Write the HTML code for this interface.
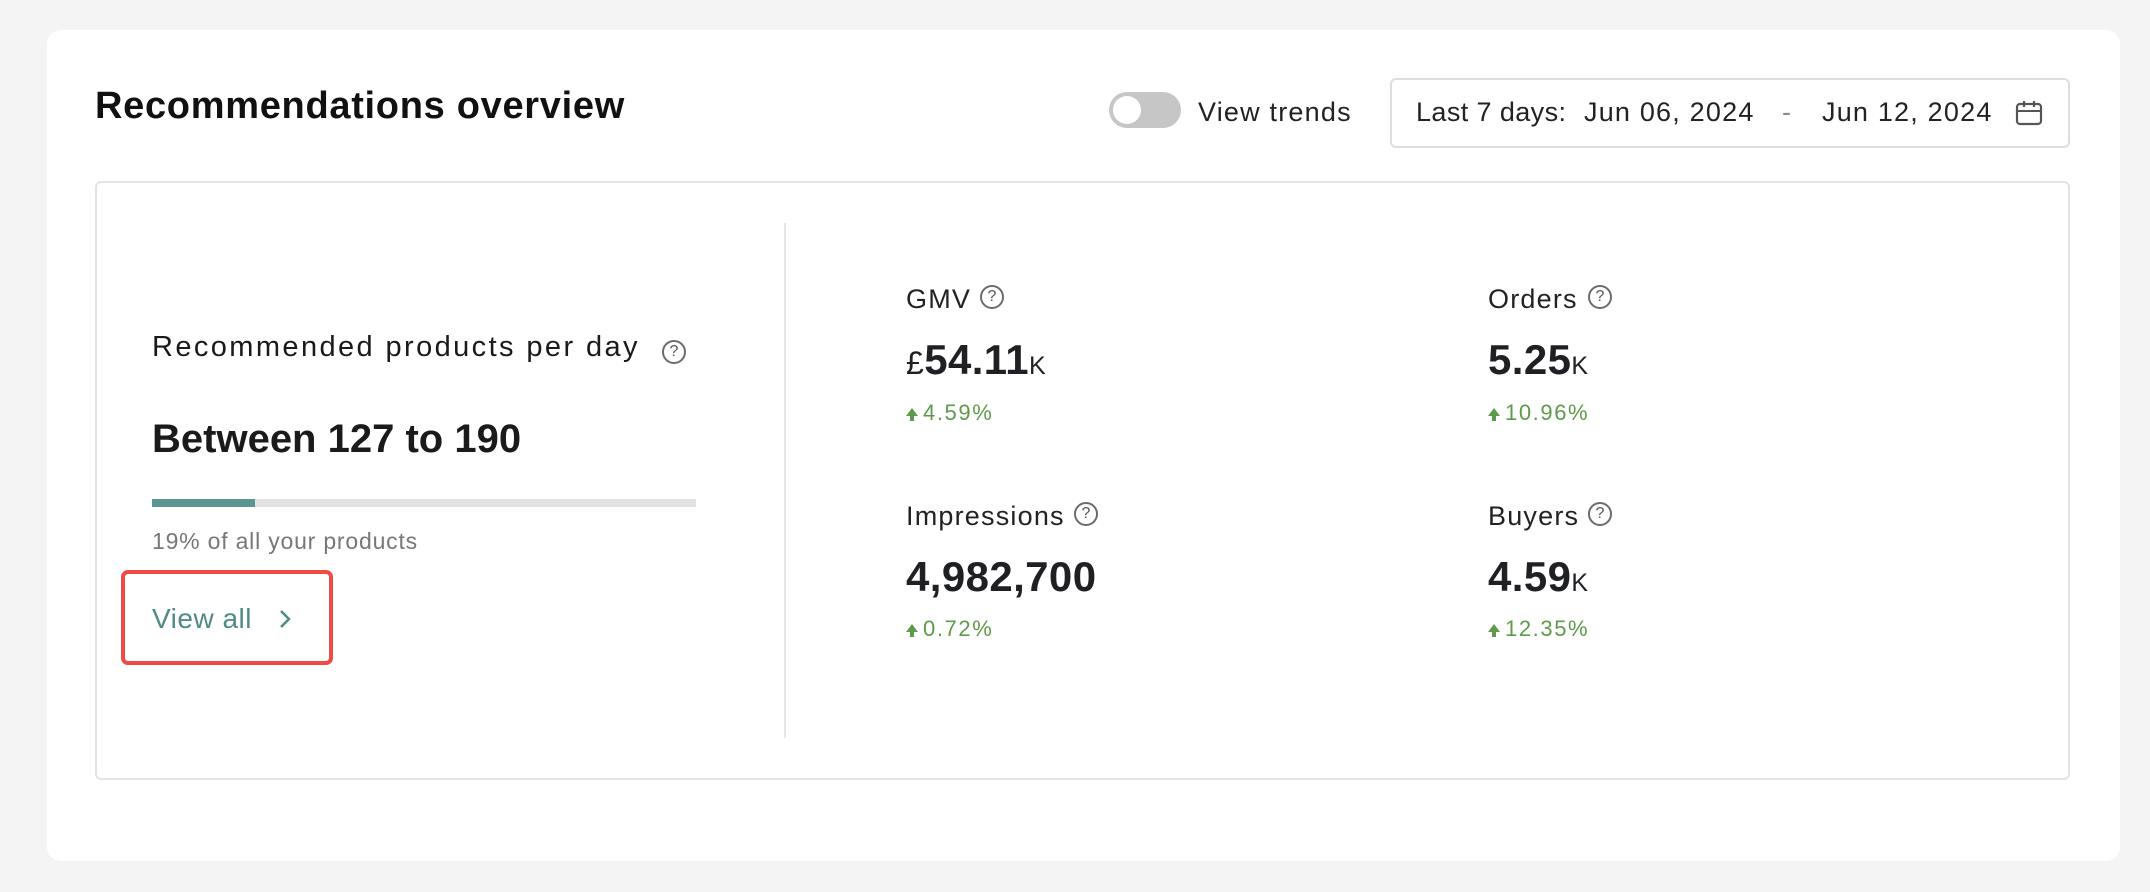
<!DOCTYPE html>
<html><head><meta charset="utf-8"><style>
*{margin:0;padding:0;box-sizing:border-box}
body{width:2150px;height:892px;background:#f4f4f4;font-family:"Liberation Sans",sans-serif;color:#1f2024;position:relative;overflow:hidden}
.a{position:absolute;line-height:1;white-space:nowrap}
.card{position:absolute;left:47px;top:30px;width:2073px;height:831px;background:#fff;border-radius:14px}
.inner{position:absolute;left:95px;top:181px;width:1975px;height:599px;border:2px solid #e3e3e3;border-radius:6px}
.help{position:absolute;width:24px;height:24px;border:2px solid #6b6b6b;border-radius:50%;font-size:16px;line-height:20px;text-align:center;color:#555}
.lbl{font-size:27px;color:#222;letter-spacing:1.2px}
.val{font-size:42px;font-weight:bold;color:#1f2024;letter-spacing:0.4px}
.val small{font-size:25px;font-weight:normal}
.pct{font-size:22px;color:#5e9a4a;letter-spacing:1.6px}
.pct b{display:inline-block;width:0;height:0;border-left:6px solid transparent;border-right:6px solid transparent;border-bottom:8px solid #5e9a4a;margin-right:5px;position:relative;top:-4px}
.pct b:after{content:"";position:absolute;left:-2px;top:7px;width:4px;height:6px;background:#5e9a4a}
.d{font-size:27px;color:#222;letter-spacing:1.2px}
</style></head><body>
<div class="card"></div>
<div class="a" style="left:95px;top:87px;font-size:38px;font-weight:bold;color:#111;letter-spacing:0.7px">Recommendations overview</div>

<div class="a" style="left:1109px;top:92px;width:72px;height:36px;border-radius:18px;background:#c6c6c6"></div>
<div class="a" style="left:1113px;top:96px;width:28px;height:28px;border-radius:50%;background:#fff"></div>
<div class="a d" style="left:1198px;top:99px">View trends</div>

<div class="a" style="left:1390px;top:78px;width:680px;height:70px;border:2px solid #dedede;border-radius:6px"></div>
<div class="a d" style="left:1416px;top:99px;letter-spacing:0.4px">Last 7 days:</div>
<div class="a d" style="left:1584px;top:99px">Jun 06, 2024</div>
<div class="a d" style="left:1782px;top:99px;color:#888">-</div>
<div class="a d" style="left:1822px;top:99px">Jun 12, 2024</div>
<svg class="a" style="left:2015px;top:100px" width="28" height="26" viewBox="0 0 28 26"><rect x="2" y="4" width="24" height="20" rx="3" fill="none" stroke="#555" stroke-width="2.2"/><line x1="2" y1="11" x2="26" y2="11" stroke="#555" stroke-width="2"/><line x1="9" y1="1" x2="9" y2="7" stroke="#555" stroke-width="2.2"/><line x1="19" y1="1" x2="19" y2="7" stroke="#555" stroke-width="2.2"/></svg>

<div class="inner"></div>
<div class="a" style="left:784px;top:223px;width:2px;height:515px;background:#e6e6e6"></div>

<div class="a" style="left:152px;top:333px;font-size:29px;color:#1a1a1a;letter-spacing:2.4px">Recommended products per day</div>
<div class="help" style="left:662px;top:340px">?</div>
<div class="a" style="left:152px;top:419px;font-size:40px;font-weight:bold;color:#1a1a1a">Between 127 to 190</div>
<div class="a" style="left:152px;top:499px;width:544px;height:8px;background:#e2e2e2"></div>
<div class="a" style="left:152px;top:499px;width:103px;height:8px;background:#5a9690"></div>
<div class="a" style="left:152px;top:530px;font-size:23px;color:#777;letter-spacing:0.8px">19% of all your products</div>
<div class="a" style="left:121px;top:570px;width:212px;height:95px;border:4px solid #f04a45;border-radius:7px"></div>
<div class="a" style="left:152px;top:605px;font-size:28px;color:#4f8a86;letter-spacing:0.5px">View all</div>
<svg class="a" style="left:278px;top:608px" width="14" height="22" viewBox="0 0 14 22"><polyline points="3,3 11,11 3,19" fill="none" stroke="#4f8a86" stroke-width="2.5"/></svg>

<div class="a lbl" style="left:906px;top:286px">GMV</div>
<div class="help" style="left:980px;top:285px">?</div>
<div class="a val" style="left:906px;top:339px"><span style="font-size:32px;font-weight:normal">£</span>54.11<small>K</small></div>
<div class="a pct" style="left:906px;top:402px"><b></b>4.59%</div>

<div class="a lbl" style="left:906px;top:503px">Impressions</div>
<div class="help" style="left:1074px;top:502px">?</div>
<div class="a val" style="left:906px;top:556px">4,982,700</div>
<div class="a pct" style="left:906px;top:618px"><b></b>0.72%</div>

<div class="a lbl" style="left:1488px;top:286px">Orders</div>
<div class="help" style="left:1588px;top:285px">?</div>
<div class="a val" style="left:1488px;top:339px">5.25<small>K</small></div>
<div class="a pct" style="left:1488px;top:402px"><b></b>10.96%</div>

<div class="a lbl" style="left:1488px;top:503px">Buyers</div>
<div class="help" style="left:1588px;top:502px">?</div>
<div class="a val" style="left:1488px;top:556px">4.59<small>K</small></div>
<div class="a pct" style="left:1488px;top:618px"><b></b>12.35%</div>
</body></html>
